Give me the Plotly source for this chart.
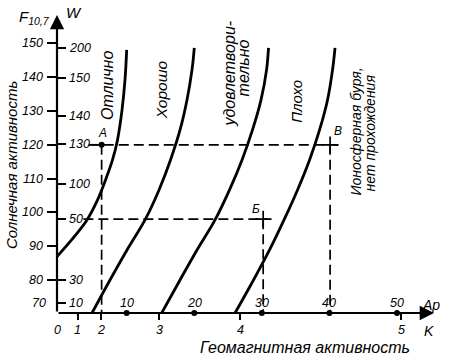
import plotly.graph_objects as go

# ---------------- data ----------------
# Solar activity scale F10.7 (left of axis) and Wolf number W (right of axis, at F levels)
F_ticks = [80, 90, 100, 110, 120, 130, 140, 150]
F_bottom_label = "70"
F_bottom_label_pos = 73.1
W_labels = ["200", "150", "140", "130", "100", "50", "30", "10"]
W_pos_F = [148.6, 139.7, 128.5, 120.3, 108.4, 98.0, 80.0, 73.1]

# Geomagnetic activity: Ap (linear) and K index (positions in Ap units)
Ap_ticks = [10, 20, 30, 40, 50]
K_labels = ["0", "1", "2", "3", "4", "5"]
K_pos_Ap = [-0.3, 2.8, 6.2, 14.8, 26.8, 50.6]

# Boundary curves (Ap, F10.7)
c1_ap = [-0.30, 1.85, 4.14, 5.70, 6.88, 7.91, 8.65, 9.32, 9.76, 10.01]
c1_f = [86.90, 91.84, 97.76, 103.68, 109.59, 115.51, 121.43, 130.31, 139.19, 148.07]
c2_ap = [4.88, 7.54, 10.06, 12.72, 14.79, 16.49, 17.90, 18.93, 19.67, 20.01]
c2_f = [70.23, 80.0, 88.88, 97.76, 106.64, 115.51, 124.39, 133.27, 142.15, 148.66]
c3_ap = [15.19, 17.90, 20.41, 23.08, 25.22, 27.07, 28.62, 29.88, 30.70, 30.99]
c3_f = [70.23, 80.0, 88.88, 97.76, 106.64, 115.51, 124.39, 133.27, 142.15, 148.66]
c4_ap = [26.04, 28.77, 31.14, 33.28, 35.28, 37.06, 38.54, 39.72, 40.46, 40.83]
c4_f = [70.23, 80.0, 88.88, 97.76, 106.64, 115.51, 124.39, 133.27, 142.15, 148.66]
curves = [(c1_ap, c1_f), (c2_ap, c2_f), (c3_ap, c3_f), (c4_ap, c4_f)]

# Example points А, Б, В
pt_names = ["А", "Б", "В"]
pt_ap = [6.3, 30.2, 40.1]
pt_f = [120.0, 98.0, 120.0]
guide_start_ap = [4.4, 3.6, 4.4]
guide_end_ap = [6.3, 31.0, 41.3]

# Zone labels (rotated)
zone_labels = ["Отлично", "Хорошо", "удовлетвори-", "тельно", "Плохо",
               "Ионосферная буря,", "нет прохождения"]
zone_ap = [7.25, 15.1, 25.15, 27.22, 35.2, 43.93, 46.0]
zone_f = [137.4, 136.2, 141.1, 142.6, 133.0, 123.95, 123.65]
zone_size = [16, 15.5, 16, 16, 15, 14, 14]

X_RANGE = [-0.3, 55.47]
Y_RANGE = [70.23, 158.4]

FONT = "Liberation Sans, Arial, sans-serif"

fig = go.Figure()

# dashed guide lines
for name, x, y, xs, xe in zip(pt_names, pt_ap, pt_f, guide_start_ap, guide_end_ap):
    fig.add_trace(go.Scatter(x=[xs, xe], y=[y, y], mode="lines",
                             line=dict(color="black", width=1.7, dash="10px,5px"),
                             hoverinfo="skip", showlegend=False))
    fig.add_trace(go.Scatter(x=[x, x], y=[y, Y_RANGE[0]], mode="lines",
                             line=dict(color="black", width=1.7, dash="10px,5px"),
                             hoverinfo="skip", showlegend=False))

# boundary curves
for cx, cy in curves:
    fig.add_trace(go.Scatter(x=cx, y=cy, mode="lines",
                             line=dict(color="black", width=2.8, shape="spline", smoothing=1.0),
                             hoverinfo="skip", showlegend=False, cliponaxis=False))

# point markers
fig.add_trace(go.Scatter(x=pt_ap[:1], y=pt_f[:1], mode="markers",
                         marker=dict(color="black", size=6), showlegend=False))
fig.add_trace(go.Scatter(x=pt_ap[1:], y=pt_f[1:], mode="markers",
                         marker=dict(color="black", size=12, symbol="cross-thin",
                                     line=dict(color="black", width=1.7)),
                         showlegend=False))

# Ap dots on the axis
fig.add_trace(go.Scatter(x=Ap_ticks, y=[Y_RANGE[0]] * len(Ap_ticks), mode="markers",
                         marker=dict(color="black", size=6), cliponaxis=False,
                         showlegend=False))

ann = []
# axis arrows
ann.append(dict(x=X_RANGE[1], y=Y_RANGE[0], ax=X_RANGE[0], ay=Y_RANGE[0],
                xref="x", yref="y", axref="x", ayref="y", text="", showarrow=True,
                arrowhead=2, arrowsize=1.3, arrowwidth=2.2, arrowcolor="black"))
ann.append(dict(x=X_RANGE[0], y=Y_RANGE[1], ax=X_RANGE[0], ay=Y_RANGE[0],
                xref="x", yref="y", axref="x", ayref="y", text="", showarrow=True,
                arrowhead=2, arrowsize=1.3, arrowwidth=2.2, arrowcolor="black"))


def txt(text, x, y, size=13, xref="x", yref="y", angle=0, xanchor="center",
        yanchor="middle", **kw):
    d = dict(text=text, x=x, y=y, xref=xref, yref=yref, showarrow=False, textangle=angle,
             xanchor=xanchor, yanchor=yanchor,
             font=dict(family=FONT, size=size, color="black", style="italic"))
    d.update(kw)
    return d


# tick labels
for v in F_ticks:
    ann.append(txt(str(v), X_RANGE[0], v, size=12.5, xanchor="right", xshift=-12))
ann.append(txt(F_bottom_label, X_RANGE[0], F_bottom_label_pos, size=12.5,
               xanchor="right", xshift=-9))
for lab, pos in zip(W_labels, W_pos_F):
    ann.append(txt(lab, X_RANGE[0], pos, size=12.5, xanchor="left", xshift=10))
for lab, pos in zip(K_labels, K_pos_Ap):
    ann.append(txt(lab, pos, Y_RANGE[0], size=12.5, yshift=-17))
for v in Ap_ticks:
    ann.append(txt(str(v), v, Y_RANGE[0], size=12.5, yshift=10))

# point labels
ann.append(txt(pt_names[0], pt_ap[0], pt_f[0], size=12, yshift=12, xshift=1))
ann.append(txt(pt_names[1], pt_ap[1], pt_f[1], size=12, yshift=10, xshift=-7))
ann.append(txt(pt_names[2], pt_ap[2], pt_f[2], size=12, yshift=14, xshift=8))

# zone labels
for t, x, y, s in zip(zone_labels, zone_ap, zone_f, zone_size):
    ann.append(txt(t, x, y, size=s, angle=-90))

# axis labels
ann.append(txt("Солнечная активность", -0.119, 0.497, size=15, xref="paper",
               yref="paper", angle=-90))
ann.append(txt("Геомагнитная активность", 36.4, -0.117, size=16, yref="paper"))
ann.append(txt("F<sub>10,7</sub>", -0.061, 0.993, size=15, xref="paper", yref="paper"))
ann.append(txt("W", 0.045, 1.008, size=15, xref="paper", yref="paper"))
ann.append(txt("Ap", 55.0, Y_RANGE[0], size=14, yshift=8))
ann.append(txt("K", 54.7, Y_RANGE[0], size=14, yshift=-18))

fig.update_layout(
    width=450, height=359,
    margin=dict(l=57, r=16, t=15, b=46),
    paper_bgcolor="white", plot_bgcolor="white",
    showlegend=False,
    annotations=ann,
    xaxis=dict(range=X_RANGE, tickvals=K_pos_Ap[1:], ticks="outside", showticklabels=False,
               ticklen=6, tickwidth=2, tickcolor="black", showgrid=False, zeroline=False,
               showline=False, fixedrange=True),
    yaxis=dict(range=Y_RANGE, tickvals=F_ticks, ticks="outside", ticklen=9, tickwidth=2,
               showticklabels=False, tickcolor="black", showgrid=False, zeroline=False,
               showline=False, fixedrange=True),
    yaxis2=dict(range=Y_RANGE, overlaying="y", side="left", anchor="x",
                tickvals=W_pos_F, ticks="inside", ticklen=9, tickwidth=2,
                showticklabels=False, tickcolor="black", showgrid=False,
                zeroline=False, showline=False, fixedrange=True),
)

# invisible trace to activate yaxis2
fig.add_trace(go.Scatter(x=[None], y=[None], yaxis="y2", showlegend=False))

fig.write_html("out.html", config={"displayModeBar": False},
               post_script="document.body.style.margin='0px';")
